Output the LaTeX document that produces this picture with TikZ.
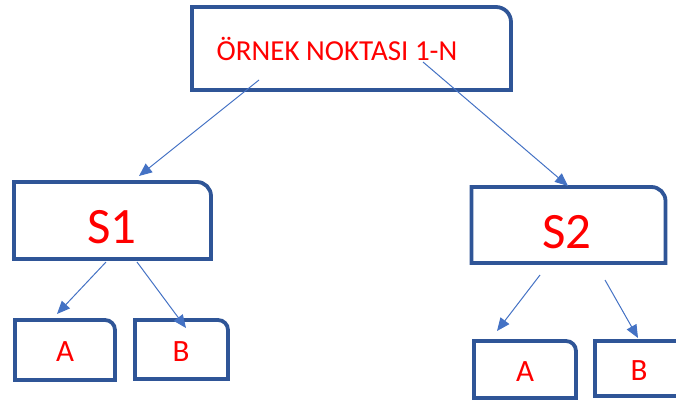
\documentclass[tikz,border=0pt]{standalone}
\usepackage{fontspec}
\setmainfont{Carlito}
\usetikzlibrary{arrows.meta,calc}
\definecolor{boxblue}{HTML}{2F5597}
\definecolor{arrowblue}{HTML}{4472C4}
\definecolor{txtred}{HTML}{FF0000}
\tikzset{
  x=1pt,y=1pt,
  holder/.style={draw=none,inner sep=0pt,outer sep=0pt,rectangle},
  boxline/.style={draw=boxblue,line width=3.8pt,line join=miter,fill=white},
  lbl/.style={text=txtred,inner sep=0pt,anchor=center},
  conn/.style={draw=arrowblue,line width=1pt,-{Triangle[length=13pt,width=11pt]}},
}
\newcommand{\cornerbox}[2]{%
  \draw[boxline] (#1.south west) -- (#1.north west) -- ([xshift=-#2]#1.north east)
    arc[start angle=90,end angle=0,radius=#2] -- (#1.south east) -- cycle;}
\begin{document}
\begin{tikzpicture}
\useasboundingbox (0,0) rectangle (676,405);
\clip (0,0) rectangle (676,405);
% holders (y measured upward: Y = 405 - y)
\node[holder,minimum width=319pt,minimum height=83pt] (top) at (351.5,356.5) {};
\node[holder,minimum width=197pt,minimum height=77pt] (s1) at (112.5,184.5) {};
\node[holder,minimum width=194pt,minimum height=76pt] (s2) at (568.5,180) {};
\node[holder,minimum width=100pt,minimum height=60pt] (a1) at (65,55) {};
\node[holder,minimum width=93pt,minimum height=59pt] (b1) at (181.5,55.5) {};
\node[holder,minimum width=102pt,minimum height=57pt] (a2) at (525,35.5) {};
\node[holder,minimum width=95pt,minimum height=55pt] (b2) at (642.5,36.5) {};
\cornerbox{top}{15pt}
\cornerbox{s1}{14pt}
\cornerbox{s2}{14pt}
\cornerbox{a1}{10pt}
\cornerbox{b1}{10pt}
\cornerbox{a2}{10pt}
\cornerbox{b2}{10pt}
% labels
\node[lbl,font=\fontsize{29}{34}\selectfont] (toptxt) at (337,356) {ÖRNEK NOKTASI 1-N};
\node[lbl,font=\fontsize{51}{60}\selectfont] (s1txt) at ($(s1.center)+(-0.5,-6.5)$) {S1};
\node[lbl,font=\fontsize{51}{60}\selectfont] (s2txt) at ($(s2.center)+(-1.5,-7.5)$) {S2};
\node[lbl,font=\fontsize{31}{36}\selectfont] (a1txt) at ($(a1.center)+(0,-2)$) {A};
\node[lbl,font=\fontsize{31}{36}\selectfont] (b1txt) at ($(b1.center)+(-0.5,-2.5)$) {B};
\node[lbl,font=\fontsize{31}{36}\selectfont] (a2txt) at ($(a2.center)+(0,-2.5)$) {A};
\node[lbl,font=\fontsize{31}{36}\selectfont] (b2txt) at ($(b2.center)+(-3.5,-2.5)$) {B};
% connectors
\draw[conn] ($(top.south west)+(67,10)$) -- ($(s1.north west)+(125,6)$);
\draw[conn] ($(top.south west)+(231,28)$) -- ($(s2.north west)+(96.5,1)$);
\draw[conn] ($(s1.south west)+(92,-3)$) -- ($(a1.north west)+(42,6)$);
\draw[conn] ($(s1.south west)+(123,-3)$) -- ($(b1.north west)+(51,-8)$);
\draw[conn] ($(s2.south west)+(68.5,-12)$) -- ($(a2.north west)+(23,10)$);
\draw[conn] ($(s2.south west)+(133.5,-17)$) -- ($(b2.north west)+(43,3)$);
\end{tikzpicture}
\end{document}
